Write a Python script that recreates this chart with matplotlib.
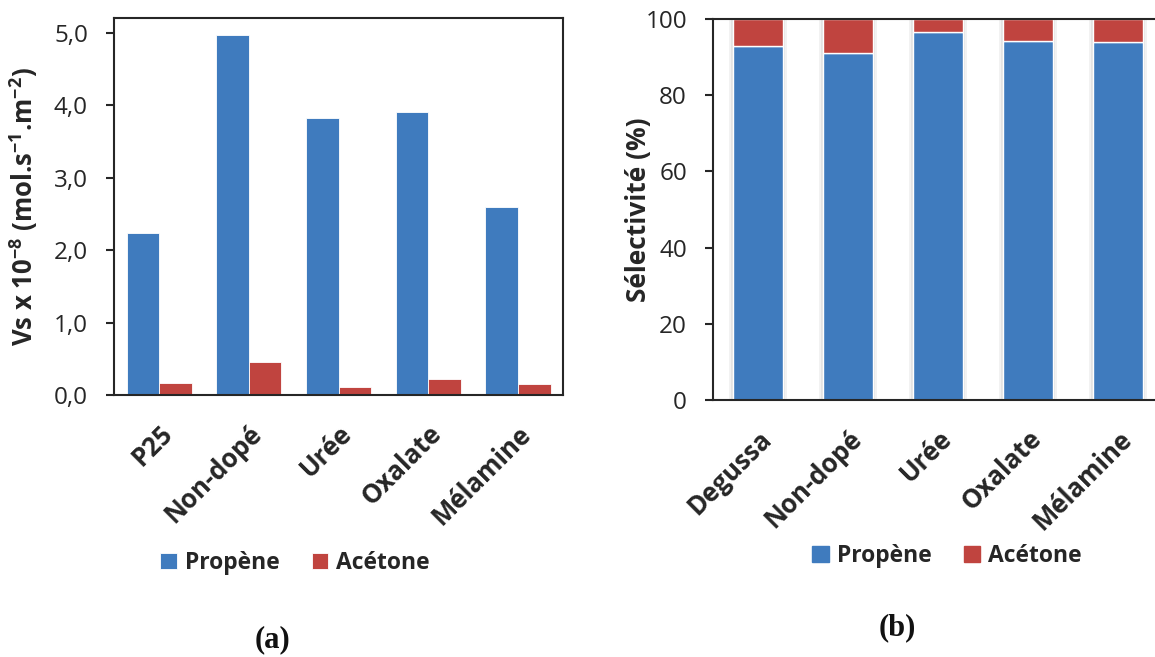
import numpy as np
import matplotlib
matplotlib.use("Agg")
import matplotlib.pyplot as plt
from matplotlib.patches import Patch

plt.rcParams['font.family'] = ['Open Sans', 'DejaVu Sans']
plt.rcParams['mathtext.fontset'] = 'custom'
plt.rcParams['mathtext.rm'] = 'Open Sans'
plt.rcParams['mathtext.bf'] = 'Open Sans:bold'

# données (a) : vitesse spécifique
cat_a = ["P25", "Non-dopé", "Urée", "Oxalate", "Mélamine"]
vs_propene = [2.23, 4.97, 3.83, 3.90, 2.59]
vs_acetone = [0.16, 0.46, 0.11, 0.22, 0.15]

# données (b) : sélectivité
cat_b = ["Degussa", "Non-dopé", "Urée", "Oxalate", "Mélamine"]
sel_propene = [93.0, 91.0, 96.6, 94.3, 94.0]
sel_acetone = [7.0, 9.0, 3.4, 5.7, 6.0]

bleu = "#3F7BBE"
rouge = "#C0443F"
texte = "#262626"

fig = plt.figure(figsize=(11.55, 6.57), dpi=100)

# ---------- (a) ----------
ax1 = fig.add_axes([0.099, 0.3988, 0.3882, 0.5734])
x = np.arange(len(cat_a))
w = 0.364
ax1.bar(x - w / 2, vs_propene, w, color=bleu, edgecolor="white", linewidth=0.6, label="Propène")
ax1.bar(x + w / 2, vs_acetone, w, color=rouge, edgecolor="white", linewidth=0.6, label="Acétone")
ax1.set_xlim(-0.5, 4.5)
ax1.set_ylim(0, 5.2)
ax1.set_yticks([0, 1, 2, 3, 4, 5])
ax1.set_yticklabels(["0,0", "1,0", "2,0", "3,0", "4,0", "5,0"])
ax1.set_xticks(x)
ax1.set_xticklabels(cat_a, rotation=45, ha="right", rotation_mode="anchor",
                    fontsize=18.5, fontweight="bold", color=texte)
ax1.tick_params(axis="x", length=0, pad=18)
ax1.tick_params(axis="y", length=6, width=1.5, color=texte, labelsize=17.5, labelcolor=texte, pad=13)
for s in ax1.spines.values():
    s.set_linewidth(1.5)
    s.set_color(texte)
ax1.set_ylabel(r"Vs x 10$^{\mathbf{-8}}$ (mol.s$^{\mathbf{-1}}$.m$^{\mathbf{-2}}$)",
               fontsize=18.5, fontweight="bold", color=texte)
ax1.yaxis.set_label_coords(-0.166, 0.5)
ax1.legend(loc="center", bbox_to_anchor=(295 / 1155, 1 - 563 / 657),
           bbox_transform=fig.transFigure, ncol=2, frameon=False,
           prop={"size": 16.5, "weight": "bold"}, handlelength=0.72, handleheight=0.72,
           handletextpad=0.35, columnspacing=1.4, labelcolor=texte)
fig.text(273 / 1155, 1 - 640 / 657, "(a)", ha="center", va="center",
         fontsize=22, fontweight="bold", family="Liberation Serif", color="#111111")

# ---------- (b) ----------
ax2 = fig.add_axes([0.6176, 0.3912, 0.3896, 0.5799])
xb = np.arange(len(cat_b))
wb = 0.556
# ombre légère derrière les barres
ax2.bar(xb, [100] * len(cat_b), wb + 0.09, color="#f2f2f2", zorder=1)
ax2.bar(xb, [100] * len(cat_b), wb + 0.045, color="#e3e3e3", zorder=1)
ax2.bar(xb, sel_propene, wb, color=bleu, edgecolor="white", linewidth=1.0, zorder=2, label="Propène")
ax2.bar(xb, sel_acetone, wb, bottom=sel_propene, color=rouge, edgecolor="white", linewidth=1.0,
        zorder=2, label="Acétone")
ax2.set_xlim(-0.5, 4.5)
ax2.set_ylim(0, 100)
ax2.set_yticks([0, 20, 40, 60, 80, 100])
ax2.set_xticks(xb)
ax2.set_xticklabels(cat_b, rotation=45, ha="right", rotation_mode="anchor",
                    fontsize=18.5, fontweight="bold", color=texte)
ax2.tick_params(axis="x", length=0, pad=18)
ax2.tick_params(axis="y", length=6, width=1.5, color=texte, labelsize=17.5, labelcolor=texte, pad=13)
for s in ax2.spines.values():
    s.set_linewidth(1.5)
    s.set_color(texte)
ax2.spines["right"].set_visible(False)
ax2.set_ylabel("Sélectivité (%)", fontsize=19, fontweight="bold", color=texte)
ax2.yaxis.set_label_coords(-0.136, 0.5)
handles = [Patch(color=bleu), Patch(color=rouge)]
ax2.legend(handles, ["Propène", "Acétone"], loc="center",
           bbox_to_anchor=(947 / 1155, 1 - 556 / 657),
           bbox_transform=fig.transFigure, ncol=2, frameon=False,
           prop={"size": 16.5, "weight": "bold"}, handlelength=0.72, handleheight=0.72,
           handletextpad=0.35, columnspacing=1.4, labelcolor=texte)
fig.text(897 / 1155, 1 - 628 / 657, "(b)", ha="center", va="center",
         fontsize=22, fontweight="bold", family="Liberation Serif", color="#111111")

fig.savefig("out.png", dpi=100)
